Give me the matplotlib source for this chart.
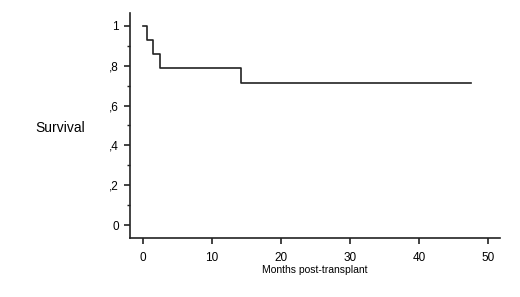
import matplotlib
matplotlib.use("Agg")
import matplotlib.pyplot as plt
from matplotlib.ticker import MultipleLocator

# Kaplan-Meier step data (months, survival)
months = [0, 0.5, 1.5, 2.5, 14.2, 47.5]
survival = [1.0, 0.929, 0.857, 0.786, 0.714, 0.714]
x_ticks = [0, 10, 20, 30, 40, 50]
y_ticks = [0, 0.2, 0.4, 0.6, 0.8, 1.0]
y_tick_labels = ["0", ",2", ",4", ",6", ",8", "1"]

plt.rcParams['font.family'] = ['Liberation Sans', 'DejaVu Sans']

fig = plt.figure(figsize=(5.2, 2.97), dpi=100)
ax = fig.add_axes([130/520, 1-238/297, 370/520, 225/297])

ax.step(months, survival, where='post', color='#222222', lw=1.2)

ax.set_xlim(-1.9, 51.7)
ax.set_ylim(-0.063, 1.063)
ax.spines['top'].set_visible(False)
ax.spines['right'].set_visible(False)
for s in ['left', 'bottom']:
    ax.spines[s].set_linewidth(1.2)
    ax.spines[s].set_color('#222222')

ax.set_xticks(x_ticks)
ax.set_yticks(y_ticks)
ax.set_yticklabels(y_tick_labels)
ax.yaxis.set_minor_locator(MultipleLocator(0.1))
ax.tick_params(axis='both', which='major', direction='out', length=4, width=1.2,
               labelsize=8.5, color='#222222')
ax.tick_params(axis='y', which='minor', direction='out', length=2.5, width=1.0, color='#222222')
ax.tick_params(axis='y', pad=4)
ax.tick_params(axis='x', pad=6)

ax.set_xlabel("Months post-transplant", fontsize=7.5, labelpad=1)
fig.text(60/520, 1-128/297, "Survival", fontsize=10, ha='center', va='center')

fig.savefig("out.png", dpi=100)
